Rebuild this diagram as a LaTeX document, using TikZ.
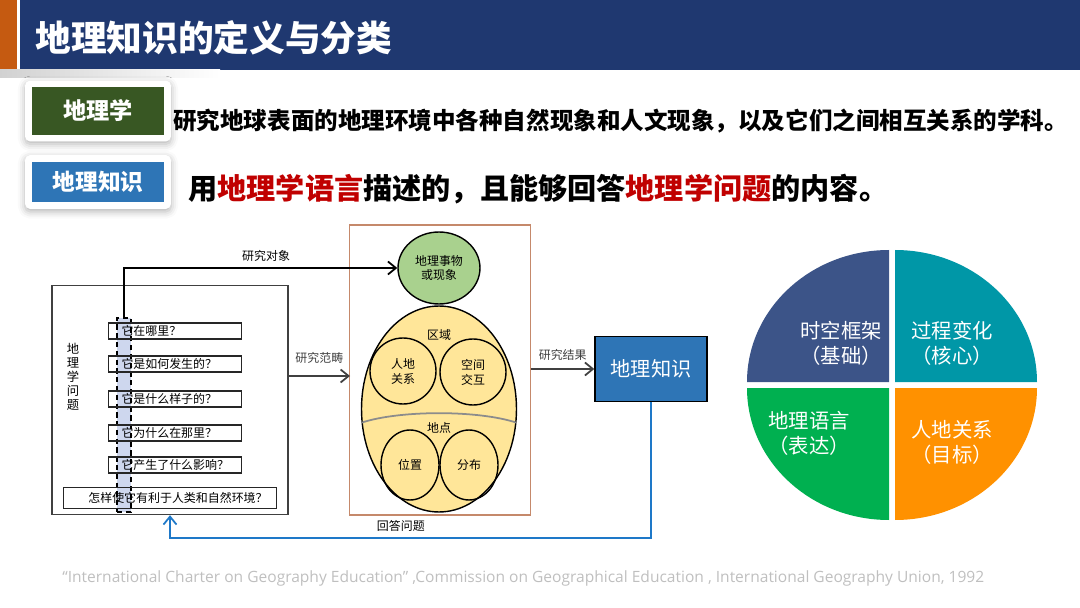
\documentclass[tikz,border=0pt]{standalone}
\usepackage{fontspec}
\setmainfont{Noto Sans CJK SC}
\newfontfamily\footfont{Open Sans}
\usetikzlibrary{shapes.geometric,arrows.meta,shadows.blur}
\definecolor{barblue}{RGB}{31,56,112}
\definecolor{barorange}{RGB}{197,90,17}
\definecolor{labgreen}{RGB}{56,87,35}
\definecolor{labblue}{RGB}{46,117,182}
\definecolor{keyred}{RGB}{192,0,0}
\definecolor{colblue}{RGB}{206,215,238}
\definecolor{framebrown}{RGB}{197,137,107}
\definecolor{objgreen}{RGB}{169,209,142}
\definecolor{scopeyellow}{RGB}{255,230,153}
\definecolor{ansblue}{RGB}{30,120,200}
\definecolor{pieslate}{RGB}{60,84,136}
\definecolor{pieteal}{RGB}{0,151,167}
\definecolor{piegreen}{RGB}{0,176,80}
\definecolor{pieorange}{RGB}{255,145,0}
\definecolor{footgray}{RGB}{191,191,191}
\newcommand\qtext[1]{\makebox[2.14cm][l]{#1}}

\begin{document}
\begin{tikzpicture}[x=0.02cm,y=-0.02cm,
    tinytext/.style={font=\fontsize{6.8}{8.5}\selectfont},
    qbox/.style={draw=black!85,line width=0.7pt,tinytext,inner sep=0pt,minimum width=2.66cm,minimum height=0.32cm},
    ring/.style={circle,draw=black,line width=0.8pt,tinytext,align=center,inner sep=0pt},
    flow/.style={-{Straight Barb[length=1.6mm,width=2.6mm]},line width=1pt},
    labbox/.style={fill=white,rounded corners=3pt,blur shadow={shadow xshift=0pt,shadow yshift=-1.5pt,shadow blur radius=4pt,shadow opacity=30},minimum width=2.92cm},
    pietext/.style={text=white,font=\fontsize{11.6}{14.2}\selectfont,align=center,inner sep=0pt}]
\useasboundingbox (0,0) rectangle (1080,608);

% title bar
\fill[barorange] (0,0) rectangle (17,70);
\fill[barblue] (20,0) rectangle (1080,70);
\shade[left color=black!18,right color=white] (0,70) rectangle (220,78);
\node[anchor=west,inner sep=0pt,text=white,font=\fontsize{20.3}{24}\selectfont\bfseries] (title) at (35,38) {地理知识的定义与分类};

% definitions
\node[labbox,minimum height=1.22cm] (geobg) at (98,111) {};
\node[fill=labgreen,minimum width=2.64cm,minimum height=0.96cm,text=white,font=\fontsize{13.2}{15}\selectfont\bfseries] (geo) at (98,111) {地理学};
\node[labbox,minimum height=1.08cm] (knowbg) at (98,182) {};
\node[fill=labblue,minimum width=2.64cm,minimum height=0.8cm,text=white,font=\fontsize{12.9}{15}\selectfont\bfseries] (knowlab) at (98,182) {地理知识};
\node[anchor=west,inner sep=0pt,font=\fontsize{13.4}{16}\selectfont\bfseries] (geodef) at (173,121) {研究地球表面的地理环境中各种自然现象和人文现象，以及它们之间相互关系的学科。};
\node[anchor=west,inner sep=0pt,font=\fontsize{16.6}{20}\selectfont\bfseries] (knowdef) at (188,189) {用\textcolor{keyred}{地理学语言}描述的，且能够回答\textcolor{keyred}{地理学问题}的内容。};

% geography questions
\node[draw=black!75,line width=0.8pt,minimum width=4.72cm,minimum height=4.58cm] (geoq) at (170,400) {};
\node[align=center,inner sep=0pt,font=\fontsize{7}{8}\selectfont] (qlabel) at (73,377) {地\\理\\学\\问\\题};
\node[draw=black,dash pattern=on 3pt off 2pt,line width=0.8pt,fill=colblue,minimum width=0.28cm,minimum height=3.88cm,inner sep=0pt] (itcol) at (124,415) {};
\node[qbox] (q1) at (175,331) {\qtext{它在哪里？}};
\node[qbox] (q2) at (175,364) {\qtext{它是如何发生的？}};
\node[qbox] (q3) at (175,399) {\qtext{它是什么样子的？}};
\node[qbox] (q4) at (175,433) {\qtext{它为什么在那里？}};
\node[qbox] (q5) at (175,465) {\qtext{它产生了什么影响？}};
\node[qbox,minimum width=4.26cm,minimum height=0.42cm] (q6) at (170,498) {\hspace*{0.32cm}怎样使它有利于人类和自然环境？};

% research frame
\node[draw=framebrown,line width=0.8pt,minimum width=3.62cm,minimum height=5.8cm] (frame) at (440,370) {};
\node[ellipse,draw=black,line width=0.8pt,fill=objgreen,minimum width=1.64cm,minimum height=1.44cm,tinytext,align=center,inner sep=0pt] (obj) at (439,268) {地理事物\\或现象};
\node[ellipse,draw=black,line width=0.8pt,fill=scopeyellow,minimum width=3.1cm,minimum height=4.12cm] (scope) at (439,409) {};
\node[tinytext] (region) at (439,335) {区域};
\node[ring,minimum size=1.32cm] (relation) at (403,371) {人地\\关系};
\node[ring,minimum size=1.32cm] (interact) at (473,372) {空间\\交互};
\draw[black!45,line width=1pt] (scope.190) .. controls (400,410) and (478,410) .. (scope.350);
\node[tinytext] (site) at (439,428) {地点};
\node[ring,ellipse,minimum width=1.16cm,minimum height=1.4cm] (position) at (410,465) {位置};
\node[ring,ellipse,minimum width=1.16cm,minimum height=1.4cm] (spread) at (469,465) {分布};

\node[draw=black,line width=0.8pt,fill=labblue,minimum width=2.24cm,minimum height=1.3cm,text=white,font=\fontsize{11.5}{13}\selectfont] (know) at (651,369) {地理知识};

% connectors
\coordinate (scopein) at (350,376);
\coordinate (ans) at (170,538);
\draw[flow] (itcol.north) |- node[tinytext,pos=0.76,above] (objlbl) {研究对象} (obj.west);
\draw[flow,black!75] (geoq.east |- scopein) -- node[tinytext,above=3pt] (scopelbl) {研究范畴} (scopein);
\draw[flow,black!75] (frame.east |- know) -- node[tinytext,above=1pt] (resultlbl) {研究结果} (know.west);
\draw[flow,ansblue] (know.south) |- node[tinytext,pos=0.76,above,text=black] (anslbl) {回答问题} (ans) -- (ans |- geoq.south);

% pie
\fill[pieslate] (889,382) -- ++(-142,0) arc[start angle=180,end angle=270,x radius=142,y radius=132] -- cycle;
\fill[pieteal] (895,382) -- ++(0,-132) arc[start angle=270,end angle=360,x radius=142,y radius=132] -- cycle;
\fill[pieorange] (895,388) -- ++(142,0) arc[start angle=0,end angle=90,x radius=142,y radius=132] -- cycle;
\fill[piegreen] (889,388) -- ++(0,132) arc[start angle=90,end angle=180,x radius=142,y radius=132] -- cycle;
\node[pietext] (frameq) at (841,343) {时空框架\\（基础）};
\node[pietext] (changeq) at (952,343) {过程变化\\（核心）};
\node[pietext] (langq) at (809,433) {地理语言\\（表达）};
\node[pietext] (relq) at (952,442) {人地关系\\（目标）};

% source
\node[anchor=west,inner sep=0pt,text=footgray,font=\footfont\fontsize{8.85}{10}\selectfont] (cite) at (62,578) {“International Charter on Geography Education” ,Commission on Geographical Education , International Geography Union, 1992};
\end{tikzpicture}
\end{document}
